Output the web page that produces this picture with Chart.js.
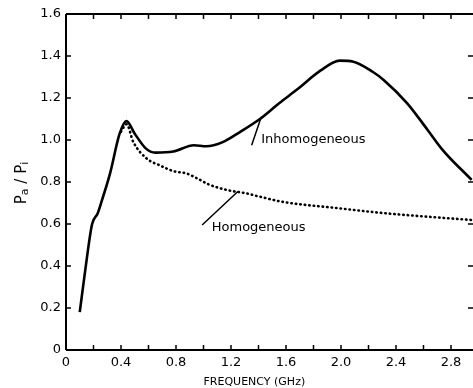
<!DOCTYPE html>
<html>
<head>
<meta charset="utf-8">
<script src="https://cdn.jsdelivr.net/npm/chart.js@4"></script>
<style>
  html, body { margin: 0; padding: 0; background: #fff; }
  #wrap { width: 473px; height: 388px; }
</style>
</head>
<body>
<div id="wrap"><canvas id="chart" width="473" height="388"></canvas></div>
<script>
// Datos
const inhomFreq = [0.10, 0.14, 0.19, 0.23, 0.26, 0.32, 0.39, 0.44, 0.50, 0.58, 0.65, 0.78, 0.93, 1.02, 1.14, 1.27, 1.41, 1.55, 1.68, 1.85, 1.99, 2.09, 2.23, 2.31, 2.48, 2.63, 2.74, 2.95];
const inhomRatio = [0.18, 0.38, 0.60, 0.65, 0.71, 0.84, 1.03, 1.09, 1.03, 0.96, 0.94, 0.945, 0.975, 0.97, 0.99, 1.04, 1.10, 1.175, 1.24, 1.33, 1.378, 1.373, 1.325, 1.286, 1.176, 1.048, 0.952, 0.81];
const homFreq = [0.40, 0.44, 0.49, 0.59, 0.68, 0.78, 0.88, 0.96, 1.04, 1.17, 1.31, 1.41, 1.58, 1.97, 2.31, 2.95];
const homRatio = [1.04, 1.075, 0.99, 0.91, 0.88, 0.852, 0.84, 0.815, 0.788, 0.762, 0.746, 0.73, 0.705, 0.676, 0.652, 0.619];
const xTicks = [0, 0.2, 0.4, 0.6, 0.8, 1.0, 1.2, 1.4, 1.6, 1.8, 2.0, 2.2, 2.4, 2.6, 2.8];
const yTicks = [0, 0.2, 0.4, 0.6, 0.8, 1.0, 1.2, 1.4, 1.6];

const toPoints = (xs, ys) => xs.map((x, i) => ({ x: x, y: ys[i] }));

// Marco, marcas hacia dentro, etiquetas y anotaciones
const framePlugin = {
  id: 'frame',
  afterDraw(chart) {
    const { ctx, chartArea: a, scales: { x, y } } = chart;
    ctx.save();
    ctx.strokeStyle = '#000';
    ctx.lineWidth = 2;
    ctx.beginPath();
    ctx.moveTo(a.left, a.bottom); ctx.lineTo(a.right, a.bottom);
    ctx.moveTo(a.left, a.top); ctx.lineTo(a.right, a.top);
    ctx.moveTo(a.left, a.top); ctx.lineTo(a.left, a.bottom);
    ctx.stroke();

    ctx.lineWidth = 1.5;
    ctx.beginPath();
    xTicks.forEach(v => {
      const px = x.getPixelForValue(v);
      ctx.moveTo(px, a.bottom); ctx.lineTo(px, a.bottom - 5);
      ctx.moveTo(px, a.top); ctx.lineTo(px, a.top + 5);
    });
    yTicks.forEach(v => {
      const py = y.getPixelForValue(v);
      ctx.moveTo(a.left, py); ctx.lineTo(a.left + 5, py);
      ctx.moveTo(a.right, py); ctx.lineTo(a.right - 5, py);
    });
    ctx.stroke();

    // líneas indicadoras
    ctx.lineWidth = 1.5;
    ctx.beginPath();
    ctx.moveTo(x.getPixelForValue(1.42), y.getPixelForValue(1.11));
    ctx.lineTo(x.getPixelForValue(1.35), y.getPixelForValue(0.975));
    ctx.moveTo(x.getPixelForValue(1.25), y.getPixelForValue(0.755));
    ctx.lineTo(x.getPixelForValue(0.99), y.getPixelForValue(0.595));
    ctx.stroke();

    ctx.fillStyle = '#000';
    ctx.font = '13px "DejaVu Sans"';
    ctx.textBaseline = 'middle';
    ctx.textAlign = 'left';
    ctx.fillText('Inhomogeneous', x.getPixelForValue(1.42), y.getPixelForValue(1.0), 110);
    ctx.fillText('Homogeneous', x.getPixelForValue(1.06), y.getPixelForValue(0.585), 102);

    // título del eje x
    ctx.font = '11px "DejaVu Sans"';
    ctx.textAlign = 'center';
    ctx.fillText('FREQUENCY (GHz)', x.getPixelForValue(1.37), 382);

    // título del eje y: Pa / Pi
    ctx.translate(22, 183);
    ctx.rotate(-Math.PI / 2);
    ctx.textAlign = 'left';
    const parts = [['P', 15, 0], ['a', 11, 3], [' / ', 15, 0], ['P', 15, 0], ['i', 11, 3]];
    let total = 0;
    parts.forEach(p => { ctx.font = p[1] + 'px "DejaVu Sans"'; total += ctx.measureText(p[0]).width; });
    let cx = -total / 2;
    parts.forEach(p => {
      ctx.font = p[1] + 'px "DejaVu Sans"';
      ctx.fillText(p[0], cx, p[2]);
      cx += ctx.measureText(p[0]).width;
    });
    ctx.restore();
  }
};

new Chart(document.getElementById('chart').getContext('2d'), {
  type: 'line',
  data: {
    datasets: [{
      label: 'Inhomogeneous',
      data: toPoints(inhomFreq, inhomRatio),
      borderColor: '#000',
      borderWidth: 2.6,
      pointRadius: 0,
      cubicInterpolationMode: 'monotone',
      fill: false
    }, {
      label: 'Homogeneous',
      data: toPoints(homFreq, homRatio),
      borderColor: '#000',
      borderWidth: 2.6,
      borderDash: [0.5, 4],
      borderCapStyle: 'round',
      pointRadius: 0,
      cubicInterpolationMode: 'monotone',
      fill: false
    }]
  },
  options: {
    responsive: false,
    animation: false,
    layout: { padding: { top: 14, right: 0, left: 0, bottom: 0 } },
    plugins: { legend: { display: false }, tooltip: { enabled: false } },
    scales: {
      x: {
        type: 'linear',
        min: 0,
        max: 2.96,
        grid: { display: false, drawTicks: false },
        border: { display: false },
        afterBuildTicks: s => { s.ticks = xTicks.map(v => ({ value: v })); },
        afterFit: s => { s.height = 38; },
        ticks: {
          autoSkip: false,
          maxRotation: 0,
          padding: 5,
          color: '#000',
          font: { family: 'DejaVu Sans', size: 13 },
          callback: v => (Math.round(v * 10) % 4 !== 0 ? '' : (v === 0 ? '0' : v.toFixed(1)))
        }
      },
      y: {
        min: 0,
        max: 1.6,
        grid: { display: false, drawTicks: false },
        border: { display: false },
        afterBuildTicks: s => { s.ticks = yTicks.map(v => ({ value: v })); },
        afterFit: s => { s.width = 66; },
        ticks: {
          padding: 5,
          color: '#000',
          font: { family: 'DejaVu Sans', size: 13 },
          callback: v => (v === 0 ? '0' : v.toFixed(1))
        }
      }
    }
  },
  plugins: [framePlugin]
});
</script>
</body>
</html>
